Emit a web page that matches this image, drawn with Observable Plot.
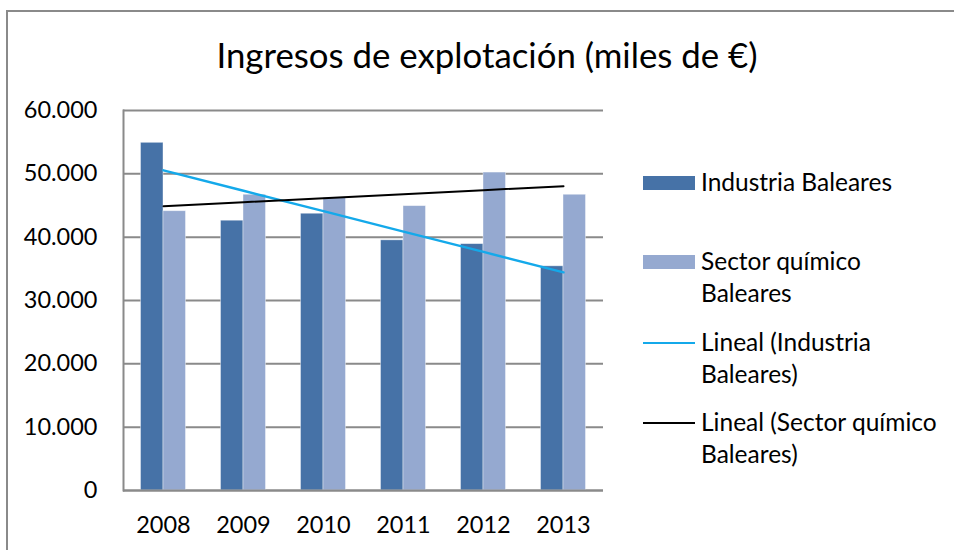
<!DOCTYPE html>
<html>
<head>
<meta charset="utf-8">
<script src="https://cdn.jsdelivr.net/npm/d3@7"></script>
<script src="https://cdn.jsdelivr.net/npm/@observablehq/plot@0.6"></script>
<style>
  html, body { margin: 0; padding: 0; background: #fff; overflow: hidden; }
  #wrap { position: relative; width: 954px; height: 550px; font-family: Lato, "Open Sans", sans-serif; color: #000; }
  #border { position: absolute; left: 6px; top: 10px; width: 1000px; height: 600px; border-left: 2px solid #8a8a8a; border-top: 2px solid #8a8a8a; }
  #title { position: absolute; left: 0; width: 974px; top: 35px; text-align: center; font-size: 34.8px; line-height: 40px; }
  #legend { position: absolute; left: 643px; top: 0; }
  .item { position: absolute; left: 0; white-space: nowrap; }
  .sw { position: absolute; left: 0; width: 52px; }
  .lbl { position: absolute; left: 58px; font-size: 24.5px; line-height: 32px; }
  #chart { position: absolute; left: 0; top: 0; }
</style>
</head>
<body>
<div id="wrap">
  <div id="border"></div>
  <div id="chart"></div>
  <div id="title">Ingresos de explotación (miles de €)</div>
  <div id="legend"></div>
</div>
<script>
const years = ["2008", "2009", "2010", "2011", "2012", "2013"];
const industria = [54900, 42600, 43700, 39500, 38900, 35400];
const sectorQuimico = [44100, 46700, 46200, 44900, 50200, 46700];
const seriesNames = ["Industria Baleares", "Sector químico Baleares"];
const trendNames = ["Lineal (Industria Baleares)", "Lineal (Sector químico Baleares)"];
const yTicks = [0, 10000, 20000, 30000, 40000, 50000, 60000];

const colInd = "#4672a7";
const colSec = "#95a9d0";
const colTrendInd = "#14a9ea";
const colTrendSec = "#000000";

function linearFit(vals) {
  const n = vals.length;
  const xs = vals.map((_, i) => i);
  const mx = d3.mean(xs), my = d3.mean(vals);
  let num = 0, den = 0;
  for (let i = 0; i < n; i++) { num += (xs[i] - mx) * (vals[i] - my); den += (xs[i] - mx) ** 2; }
  const b = num / den, a = my - b * mx;
  return xs.map(x => a + b * x);
}

const indData = years.map((y, i) => ({year: y, value: industria[i]}));
const secData = years.map((y, i) => ({year: y, value: sectorQuimico[i]}));
const indFit = linearFit(industria).map((v, i) => ({year: years[i], value: v}));
const secFit = linearFit(sectorQuimico).map((v, i) => ({year: years[i], value: v}));

const fmt = d => d === 0 ? "0" : d3.format(",")(d).replace(/,/g, ".");

const chart = Plot.plot({
  width: 954,
  height: 550,
  marginLeft: 123,
  marginRight: 351,
  marginTop: 110,
  marginBottom: 60,
  style: {fontFamily: "Lato, 'Open Sans', sans-serif", fontSize: "23.5px", color: "#000", background: "transparent", overflow: "visible"},
  x: {domain: years, padding: 0, label: null},
  y: {domain: [0, 60000], label: null},
  marks: [
    Plot.gridY(yTicks, {stroke: "#8a8a8a", strokeOpacity: 1, strokeWidth: 2}),
    Plot.barY(indData, {x: "year", y: "value", fill: colInd, insetLeft: 17.5, insetRight: 40, stroke: "#ffffff", strokeOpacity: 0.5, strokeWidth: 0.8}),
    Plot.barY(secData, {x: "year", y: "value", fill: colSec, insetLeft: 40, insetRight: 17.5, stroke: "#ffffff", strokeOpacity: 0.5, strokeWidth: 0.8}),
    Plot.line(indFit, {x: "year", y: "value", stroke: colTrendInd, strokeWidth: 2.4}),
    Plot.line(secFit, {x: "year", y: "value", stroke: colTrendSec, strokeWidth: 2}),
    Plot.ruleY([0], {stroke: "#8a8a8a", strokeWidth: 2}),
    Plot.frame({anchor: "left", stroke: "#8a8a8a", strokeWidth: 2}),
    Plot.axisY(yTicks, {tickSize: 0, tickPadding: 26, tickFormat: fmt, fontSize: 23.5, label: null}),
    Plot.axisX({tickSize: 0, tickPadding: 26, fontSize: 23.5, label: null})
  ]
});
document.getElementById("chart").appendChild(chart);

// Legend
const legend = document.getElementById("legend");
const legendItems = [
  {name: seriesNames[0], type: "bar", color: colInd, top: 166, lines: ["Industria Baleares"]},
  {name: seriesNames[1], type: "bar", color: colSec, top: 245, lines: ["Sector químico", "Baleares"]},
  {name: trendNames[0], type: "line", color: colTrendInd, top: 326, lines: ["Lineal (Industria", "Baleares)"]},
  {name: trendNames[1], type: "line", color: colTrendSec, top: 406, lines: ["Lineal (Sector químico", "Baleares)"]}
];
for (const it of legendItems) {
  const item = document.createElement("div");
  item.className = "item";
  item.style.top = it.top + "px";
  const sw = document.createElement("div");
  sw.className = "sw";
  sw.style.background = it.color;
  if (it.type === "bar") { sw.style.top = "10px"; sw.style.height = "14px"; }
  else { sw.style.top = "16px"; sw.style.height = "2px"; }
  item.appendChild(sw);
  const lbl = document.createElement("div");
  lbl.className = "lbl";
  lbl.innerHTML = it.lines.join("<br>");
  item.appendChild(lbl);
  legend.appendChild(item);
}
</script>
</body>
</html>
